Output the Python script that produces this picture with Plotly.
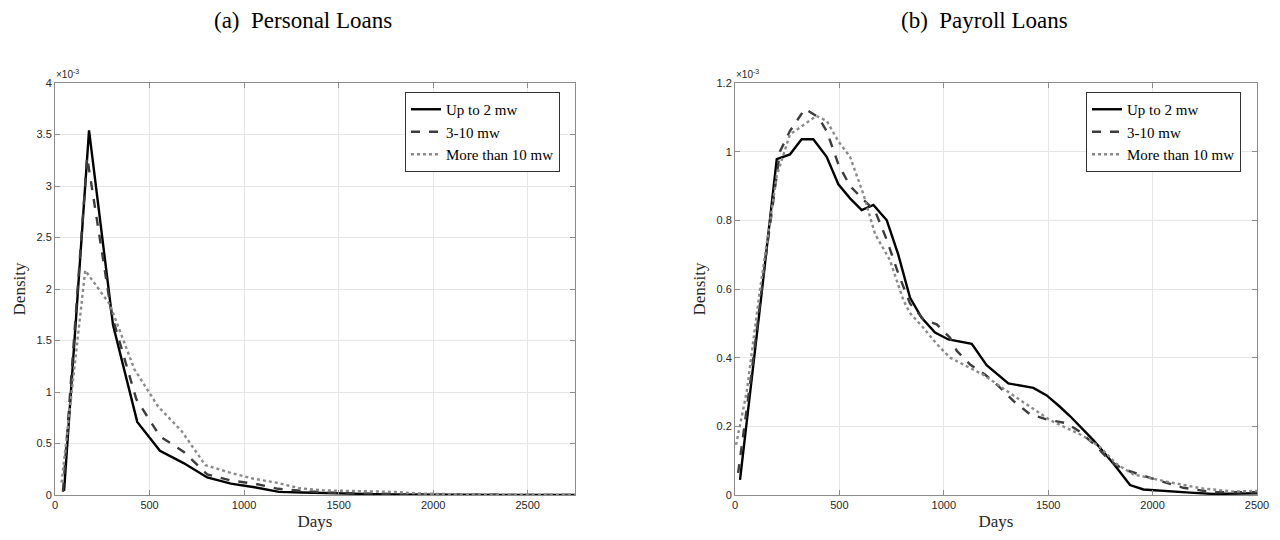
import plotly.graph_objects as go

# ---------------- Data (density, in units of 1e-3) ----------------
# (a) Personal loans
pl_up2_x = [48, 180, 307, 435, 555, 680, 805, 930, 1055, 1185, 1310, 1435, 1560, 1685, 1810, 1935, 2060, 2185, 2310, 2435, 2560, 2685, 2750]
pl_up2_y = [0.04, 3.54, 1.65, 0.71, 0.43, 0.31, 0.17, 0.11, 0.075, 0.03, 0.025, 0.018, 0.012, 0.008, 0.005, 0.003, 0.002, 0.001, 0.001, 0.0, 0.0, 0.0, 0.0]

pl_3to10_x = [42, 170, 300, 430, 555, 680, 805, 930, 1055, 1180, 1305, 1430, 1555, 1680, 1805, 1930, 2055, 2180, 2305, 2430, 2555, 2680, 2750]
pl_3to10_y = [0.03, 3.28, 1.75, 0.93, 0.57, 0.42, 0.20, 0.14, 0.11, 0.06, 0.04, 0.025, 0.018, 0.012, 0.008, 0.005, 0.003, 0.002, 0.001, 0.001, 0.0, 0.0, 0.0]

pl_gt10_x = [35, 160, 290, 420, 545, 670, 795, 920, 1045, 1170, 1295, 1420, 1545, 1670, 1795, 1920, 2045, 2170, 2295, 2420, 2545, 2670, 2750]
pl_gt10_y = [0.12, 2.18, 1.85, 1.22, 0.86, 0.62, 0.29, 0.22, 0.16, 0.12, 0.065, 0.045, 0.04, 0.035, 0.03, 0.015, 0.008, 0.005, 0.004, 0.003, 0.003, 0.003, 0.003]

# (b) Payroll loans
py_up2_x = [24, 80, 128, 200, 263, 319, 375, 439, 495, 551, 607, 663, 727, 782, 838, 894, 958, 1022, 1134, 1205, 1245, 1309, 1429, 1493, 1556, 1604, 1716, 1812, 1892, 1956, 2179, 2290, 2500]
py_up2_y = [0.044, 0.335, 0.59, 0.978, 0.992, 1.036, 1.036, 0.985, 0.905, 0.864, 0.83, 0.845, 0.80, 0.70, 0.575, 0.516, 0.473, 0.453, 0.44, 0.378, 0.357, 0.325, 0.312, 0.29, 0.257, 0.23, 0.16, 0.092, 0.029, 0.016, 0.007, 0.003, 0.005]

py_3to10_x = [15, 80, 140, 215, 263, 335, 400, 439, 495, 551, 615, 671, 727, 782, 838, 902, 966, 1030, 1062, 1126, 1197, 1261, 1333, 1413, 1493, 1589, 1652, 1732, 1796, 1860, 1988, 2147, 2290, 2500]
py_3to10_y = [0.064, 0.36, 0.66, 1.0, 1.06, 1.125, 1.10, 1.06, 0.963, 0.90, 0.86, 0.827, 0.743, 0.645, 0.558, 0.512, 0.497, 0.458, 0.42, 0.38, 0.351, 0.318, 0.274, 0.235, 0.22, 0.209, 0.184, 0.141, 0.099, 0.075, 0.05, 0.021, 0.008, 0.008]

py_gt10_x = [5, 56, 120, 200, 263, 335, 390, 439, 495, 551, 615, 671, 742, 806, 838, 902, 966, 1030, 1190, 1350, 1509, 1668, 1748, 1828, 1908, 2067, 2227, 2386, 2500]
py_gt10_y = [0.146, 0.30, 0.60, 0.93, 1.05, 1.08, 1.104, 1.09, 1.03, 0.985, 0.876, 0.76, 0.684, 0.568, 0.53, 0.487, 0.44, 0.40, 0.35, 0.283, 0.218, 0.172, 0.14, 0.09, 0.06, 0.039, 0.02, 0.01, 0.012]

series_names = ["Up to 2 mw", "3-10 mw", "More than 10 mw"]
left_ticks_x = [0, 500, 1000, 1500, 2000, 2500]
right_ticks_x = [0, 500, 1000, 1500, 2000, 2500]
left_ticks_y = [0, 0.5, 1, 1.5, 2, 2.5, 3, 3.5, 4]
left_ticks_y_text = ["0", "0.5", "1", "1.5", "2", "2.5", "3", "3.5", "4"]
right_ticks_y = [0, 0.2, 0.4, 0.6, 0.8, 1.0, 1.2]
right_ticks_y_text = ["0", "0.2", "0.4", "0.6", "0.8", "1", "1.2"]

# ---------------- Styles ----------------
styles = [
    dict(color="#000000", width=2.4, dash="solid"),
    dict(color="#3c3c3c", width=2.4, dash="dash"),
    dict(color="#8a8a8a", width=2.4, dash="dot"),
]
SERIF = "Liberation Serif, DejaVu Serif, serif"
SANS = "Liberation Sans, Arial, sans-serif"

fig = go.Figure()

left = [(pl_up2_x, pl_up2_y), (pl_3to10_x, pl_3to10_y), (pl_gt10_x, pl_gt10_y)]
right = [(py_up2_x, py_up2_y), (py_3to10_x, py_3to10_y), (py_gt10_x, py_gt10_y)]

for (x, y), name, st in zip(left, series_names, styles):
    fig.add_trace(go.Scatter(x=x, y=y, mode="lines", name=name, line=st,
                             xaxis="x", yaxis="y", legend="legend"))
for (x, y), name, st in zip(right, series_names, styles):
    fig.add_trace(go.Scatter(x=x, y=y, mode="lines", name=name, line=st,
                             xaxis="x2", yaxis="y2", legend="legend2"))

# The page body adds an 8px margin; size the figure to fit and map screen px
OFF = 8
W, H = 1280 - OFF, 540 - OFF
def px_x(p):
    return (p - OFF) / W
def px_y(p):
    return (H - (p - OFF)) / H

axis_common = dict(
    showline=True, linecolor="#8c8c8c", linewidth=1, mirror="ticks",
    ticks="inside", ticklen=5, tickcolor="#8c8c8c",
    showgrid=True, gridcolor="#e6e6e6", gridwidth=1, zeroline=False,
    tickfont=dict(family=SANS, size=11, color="#262626"),
    automargin=False,
)
title_font = dict(family=SERIF, size=17, color="#262626")

fig.update_layout(
    width=W, height=H,
    margin=dict(l=0, r=0, t=0, b=0, autoexpand=False),
    paper_bgcolor="white", plot_bgcolor="white",
    xaxis=dict(domain=[px_x(55), px_x(575)], range=[0, 2750], tickvals=left_ticks_x,
               anchor="y", title=dict(text="Days", font=title_font, standoff=4),
               **axis_common),
    yaxis=dict(domain=[px_y(495), px_y(83)], range=[0, 4], tickvals=left_ticks_y,
               ticktext=left_ticks_y_text, anchor="x",
               title=dict(text="Density", font=title_font, standoff=6),
               **axis_common),
    xaxis2=dict(domain=[px_x(735), px_x(1257)], range=[0, 2500], tickvals=right_ticks_x,
                anchor="y2", title=dict(text="Days", font=title_font, standoff=4),
                **axis_common),
    yaxis2=dict(domain=[px_y(495), px_y(83)], range=[0, 1.2], tickvals=right_ticks_y,
                ticktext=right_ticks_y_text, anchor="x2",
                title=dict(text="Density", font=title_font, standoff=6),
                **axis_common),
    legend=dict(x=px_x(405), y=px_y(92), xanchor="left", yanchor="top",
                bgcolor="white", bordercolor="#333333", borderwidth=1,
                font=dict(family=SERIF, size=15, color="#000000"),
                tracegroupgap=0, itemwidth=30),
    legend2=dict(x=px_x(1086), y=px_y(92), xanchor="left", yanchor="top",
                 bgcolor="white", bordercolor="#333333", borderwidth=1,
                 font=dict(family=SERIF, size=15, color="#000000"),
                 tracegroupgap=0, itemwidth=30),
    annotations=[
        dict(text="(a)  Personal Loans", x=px_x(303), y=px_y(20), xref="paper", yref="paper",
             xanchor="center", yanchor="middle",
             showarrow=False, font=dict(family=SERIF, size=23, color="#000000")),
        dict(text="(b)  Payroll Loans", x=px_x(984), y=px_y(20), xref="paper", yref="paper",
             xanchor="center", yanchor="middle",
             showarrow=False, font=dict(family=SERIF, size=23, color="#000000")),
        dict(text="×10<sup>-3</sup>", x=px_x(54), y=px_y(82), xref="paper", yref="paper",
             xanchor="left", yanchor="bottom", showarrow=False,
             font=dict(family=SANS, size=10, color="#262626")),
        dict(text="×10<sup>-3</sup>", x=px_x(734), y=px_y(82), xref="paper", yref="paper",
             xanchor="left", yanchor="bottom", showarrow=False,
             font=dict(family=SANS, size=10, color="#262626")),
    ],
)

fig.write_html("out.html")
